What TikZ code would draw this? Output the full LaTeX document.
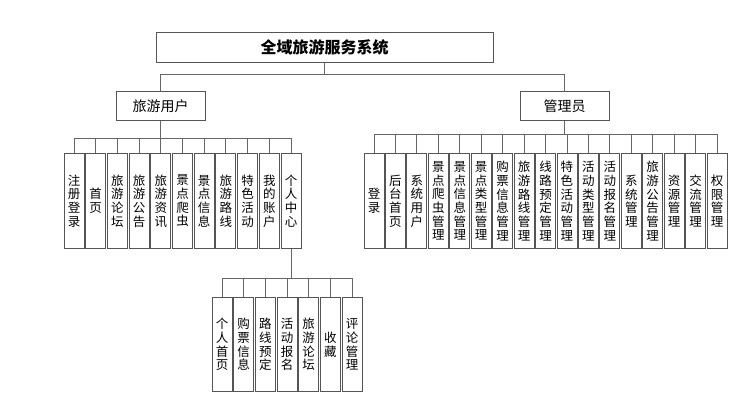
\documentclass[tikz,border=0pt]{standalone}
\usepackage{fontspec}
\newfontfamily\cjk{Noto Sans CJK SC}
\definecolor{boxgray}{HTML}{555555}
\definecolor{linegray}{HTML}{666666}
\begin{document}
\begin{tikzpicture}[x=1pt,y=-1pt,
  box/.style={draw=boxgray, line width=0.9pt, fill=white, inner sep=0pt, anchor=north,
    font=\cjk\fontsize{14}{16}\selectfont},
  leaf/.style={draw=boxgray, line width=0.9pt, fill=white, inner sep=0pt,
    minimum width=20pt, text width=20pt, align=center, minimum height=95pt, anchor=north,
    font=\cjk\fontsize{12.5}{13.7}\selectfont},
  conn/.style={draw=linegray, line width=0.9pt}]
\useasboundingbox[fill=white] (0,0) rectangle (749,413);
% coordinates of the buses
\coordinate (tb) at (0,74);
\coordinate (lb) at (0,138);
\coordinate (rb) at (0,134);
\coordinate (bb) at (0,278);
% top levels
\node[box, minimum width=337pt, minimum height=30pt, font=\cjk\bfseries\fontsize{16}{18}\selectfont] (title) at (324.5,32) {全域旅游服务系统};
\node[box, minimum width=89pt, minimum height=29pt] (user) at (160.5,91) {旅游用户};
\node[box, minimum width=89pt, minimum height=29pt] (admin) at (564.5,91) {管理员};
% left leaves
\foreach \t [count=\i] in {{注\\册\\登\\录},{首\\页},{旅\\游\\论\\坛},{旅\\游\\公\\告},{旅\\游\\资\\讯},{景\\点\\爬\\虫},{景\\点\\信\\息},{旅\\游\\路\\线},{特\\色\\活\\动},{我\\的\\账\\户},{个\\人\\中\\心}}
  \node[leaf] (l\i) at ({74+21.7*(\i-1)},153) {\t};
% right leaves
\foreach \t [count=\i] in {{登\\录},{后\\台\\首\\页},{系\\统\\用\\户},{景\\点\\爬\\虫\\管\\理},{景\\点\\信\\息\\管\\理},{景\\点\\类\\型\\管\\理},{购\\票\\信\\息\\管\\理},{旅\\游\\路\\线\\管\\理},{线\\路\\预\\定\\管\\理},{特\\色\\活\\动\\管\\理},{活\\动\\类\\型\\管\\理},{活\\动\\报\\名\\管\\理},{系\\统\\管\\理},{旅\\游\\公\\告\\管\\理},{资\\源\\管\\理},{交\\流\\管\\理},{权\\限\\管\\理}}
  \node[leaf] (r\i) at ({374+21.44*(\i-1)},153) {\t};
% bottom leaves
\foreach \t [count=\i] in {{个\\人\\首\\页},{购\\票\\信\\息},{路\\线\\预\\定},{活\\动\\报\\名},{旅\\游\\论\\坛},{收\\藏},{评\\论\\管\\理}}
  \node[leaf, minimum height=94pt] (b\i) at ({222+21.67*(\i-1)},297) {\t};
% connectors: title level
\draw[conn] (title.south) -- (title.south |- tb);
\draw[conn] (user.north |- tb) -- (admin.north |- tb);
\draw[conn] (user.north) -- (user.north |- tb);
\draw[conn] (admin.north) -- (admin.north |- tb);
% user level
\draw[conn] (user.south) -- (user.south |- lb);
\draw[conn] (l1.north |- lb) -- (l11.north |- lb);
\foreach \i in {1,...,11} \draw[conn] (l\i.north) -- (l\i.north |- lb);
% admin level
\draw[conn] (admin.south) -- (admin.south |- rb);
\draw[conn] (r1.north |- rb) -- (r17.north |- rb);
\foreach \i in {1,...,17} \draw[conn] (r\i.north) -- (r\i.north |- rb);
% personal centre level
\draw[conn] (l11.south) -- (l11.south |- bb);
\draw[conn] (b1.north |- bb) -- (b7.north |- bb);
\foreach \i in {1,...,7} \draw[conn] (b\i.north) -- (b\i.north |- bb);
\end{tikzpicture}
\end{document}
